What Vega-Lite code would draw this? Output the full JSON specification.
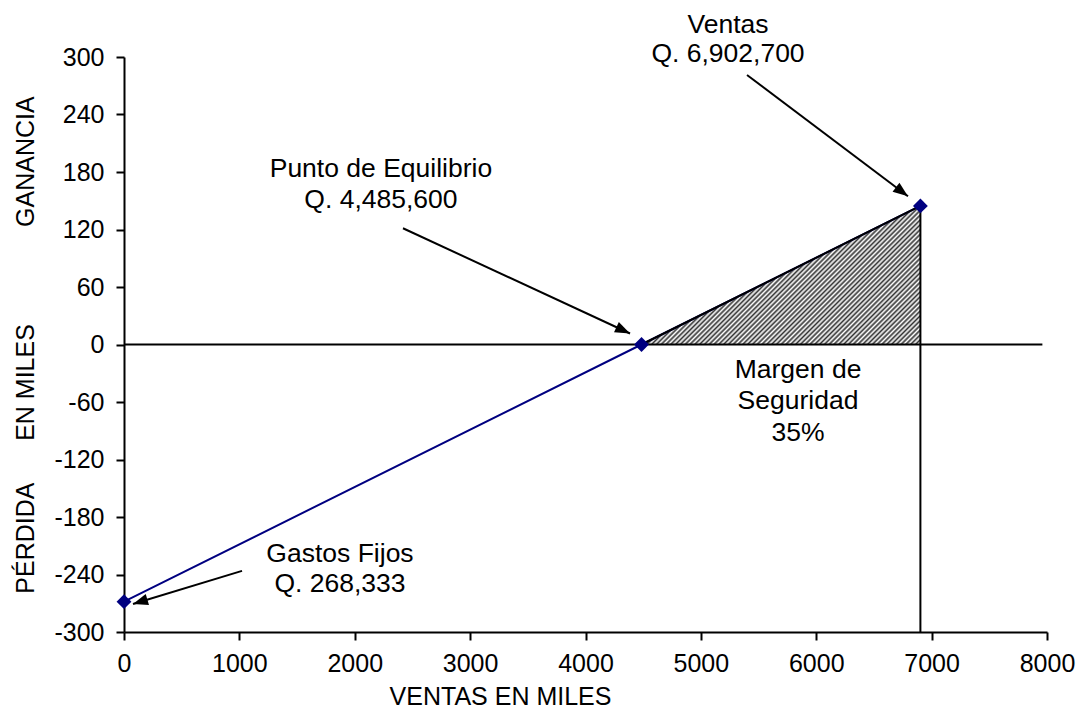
{
  "$schema": "https://vega.github.io/schema/vega-lite/v6.json",
  "width": 923,
  "height": 575,
  "autosize": {"type": "none"},
  "padding": {"left": 124, "top": 57, "right": 33, "bottom": 81},
  "background": "white",
  "config": {
    "view": {"stroke": null},
    "axis": {
      "grid": false,
      "domainColor": "black",
      "domainWidth": 2,
      "tickColor": "black",
      "tickWidth": 2,
      "tickSize": 8,
      "labelFont": "Liberation Sans",
      "labelFontSize": 25,
      "labelColor": "black",
      "labelFlush": false,
      "titleFont": "Liberation Sans",
      "titleFontSize": 25,
      "titleFontWeight": "normal",
      "titleColor": "black"
    }
  },
  "datasets": {
    "series": [
      {"ventas": 0, "ganancia": -268.333},
      {"ventas": 4485.6, "ganancia": 0},
      {"ventas": 6902.7, "ganancia": 144.6}
    ],
    "flechas": [
      {"nombre": "ventas", "x_inicio": 5400, "y_inicio": 281.2, "x_fin": 6795, "y_fin": 154.7},
      {"nombre": "equilibrio", "x_inicio": 2418, "y_inicio": 121.3, "x_fin": 4386, "y_fin": 11.5},
      {"nombre": "gastos", "x_inicio": 1023, "y_inicio": -236.2, "x_fin": 78, "y_fin": -270.7}
    ],
    "etiquetas": [
      {"texto": "Ventas", "ventas": 5235, "ganancia": 325.1},
      {"texto": "Q. 6,902,700", "ventas": 5235, "ganancia": 294.8},
      {"texto": "Punto de Equilibrio", "ventas": 2227, "ganancia": 174.6},
      {"texto": "Q. 4,485,600", "ventas": 2227, "ganancia": 142.2},
      {"texto": "Margen de", "ventas": 5842, "ganancia": -34.5},
      {"texto": "Seguridad", "ventas": 5842, "ganancia": -66.9},
      {"texto": "35%", "ventas": 5842, "ganancia": -100.3},
      {"texto": "Gastos Fijos", "ventas": 1872, "ganancia": -226.8},
      {"texto": "Q. 268,333", "ventas": 1872, "ganancia": -258.2}
    ]
  },
  "encoding": {
    "x": {
      "type": "quantitative",
      "scale": {"domain": [0, 8000], "nice": false},
      "axis": {
        "title": "VENTAS EN MILES",
        "values": [0, 1000, 2000, 3000, 4000, 5000, 6000, 7000, 8000],
        "labelExpr": "toString(datum.value)",
        "labelPadding": 11,
        "titlePadding": 8,
        "titleX": 376
      }
    },
    "y": {
      "type": "quantitative",
      "scale": {"domain": [-300, 300], "nice": false},
      "axis": {
        "title": "PÉRDIDA\u00a0\u00a0\u00a0\u00a0\u00a0\u00a0EN MILES\u00a0\u00a0\u00a0\u00a0\u00a0\u00a0\u00a0\u00a0\u00a0\u00a0\u00a0\u00a0\u00a0\u00a0GANANCIA",
        "values": [-300, -240, -180, -120, -60, 0, 60, 120, 180, 240, 300],
        "labelExpr": "toString(datum.value)",
        "labelPadding": 12,
        "titlePadding": 15
      }
    }
  },
  "layer": [
    {
      "data": {"name": "series"},
      "transform": [{"filter": "datum.ventas >= 4485.6"}],
      "mark": {
        "type": "area",
        "fill": {
          "gradient": "linear",
          "x1": 0, "y1": 0, "x2": 1.2, "y2": 0.597,
          "stops": [
            {"offset":0.0000,"color":"#333333"},{"offset":0.0057,"color":"#ffffff"},
            {"offset":0.0115,"color":"#333333"},{"offset":0.0172,"color":"#ffffff"},
            {"offset":0.0230,"color":"#333333"},{"offset":0.0287,"color":"#ffffff"},
            {"offset":0.0345,"color":"#333333"},{"offset":0.0402,"color":"#ffffff"},
            {"offset":0.0460,"color":"#333333"},{"offset":0.0517,"color":"#ffffff"},
            {"offset":0.0575,"color":"#333333"},{"offset":0.0632,"color":"#ffffff"},
            {"offset":0.0690,"color":"#333333"},{"offset":0.0747,"color":"#ffffff"},
            {"offset":0.0805,"color":"#333333"},{"offset":0.0862,"color":"#ffffff"},
            {"offset":0.0920,"color":"#333333"},{"offset":0.0977,"color":"#ffffff"},
            {"offset":0.1034,"color":"#333333"},{"offset":0.1092,"color":"#ffffff"},
            {"offset":0.1149,"color":"#333333"},{"offset":0.1207,"color":"#ffffff"},
            {"offset":0.1264,"color":"#333333"},{"offset":0.1322,"color":"#ffffff"},
            {"offset":0.1379,"color":"#333333"},{"offset":0.1437,"color":"#ffffff"},
            {"offset":0.1494,"color":"#333333"},{"offset":0.1552,"color":"#ffffff"},
            {"offset":0.1609,"color":"#333333"},{"offset":0.1667,"color":"#ffffff"},
            {"offset":0.1724,"color":"#333333"},{"offset":0.1782,"color":"#ffffff"},
            {"offset":0.1839,"color":"#333333"},{"offset":0.1897,"color":"#ffffff"},
            {"offset":0.1954,"color":"#333333"},{"offset":0.2011,"color":"#ffffff"},
            {"offset":0.2069,"color":"#333333"},{"offset":0.2126,"color":"#ffffff"},
            {"offset":0.2184,"color":"#333333"},{"offset":0.2241,"color":"#ffffff"},
            {"offset":0.2299,"color":"#333333"},{"offset":0.2356,"color":"#ffffff"},
            {"offset":0.2414,"color":"#333333"},{"offset":0.2471,"color":"#ffffff"},
            {"offset":0.2529,"color":"#333333"},{"offset":0.2586,"color":"#ffffff"},
            {"offset":0.2644,"color":"#333333"},{"offset":0.2701,"color":"#ffffff"},
            {"offset":0.2759,"color":"#333333"},{"offset":0.2816,"color":"#ffffff"},
            {"offset":0.2874,"color":"#333333"},{"offset":0.2931,"color":"#ffffff"},
            {"offset":0.2989,"color":"#333333"},{"offset":0.3046,"color":"#ffffff"},
            {"offset":0.3103,"color":"#333333"},{"offset":0.3161,"color":"#ffffff"},
            {"offset":0.3218,"color":"#333333"},{"offset":0.3276,"color":"#ffffff"},
            {"offset":0.3333,"color":"#333333"},{"offset":0.3391,"color":"#ffffff"},
            {"offset":0.3448,"color":"#333333"},{"offset":0.3506,"color":"#ffffff"},
            {"offset":0.3563,"color":"#333333"},{"offset":0.3621,"color":"#ffffff"},
            {"offset":0.3678,"color":"#333333"},{"offset":0.3736,"color":"#ffffff"},
            {"offset":0.3793,"color":"#333333"},{"offset":0.3851,"color":"#ffffff"},
            {"offset":0.3908,"color":"#333333"},{"offset":0.3966,"color":"#ffffff"},
            {"offset":0.4023,"color":"#333333"},{"offset":0.4080,"color":"#ffffff"},
            {"offset":0.4138,"color":"#333333"},{"offset":0.4195,"color":"#ffffff"},
            {"offset":0.4253,"color":"#333333"},{"offset":0.4310,"color":"#ffffff"},
            {"offset":0.4368,"color":"#333333"},{"offset":0.4425,"color":"#ffffff"},
            {"offset":0.4483,"color":"#333333"},{"offset":0.4540,"color":"#ffffff"},
            {"offset":0.4598,"color":"#333333"},{"offset":0.4655,"color":"#ffffff"},
            {"offset":0.4713,"color":"#333333"},{"offset":0.4770,"color":"#ffffff"},
            {"offset":0.4828,"color":"#333333"},{"offset":0.4885,"color":"#ffffff"},
            {"offset":0.4943,"color":"#333333"},{"offset":0.5000,"color":"#ffffff"},
            {"offset":0.5057,"color":"#333333"},{"offset":0.5115,"color":"#ffffff"},
            {"offset":0.5172,"color":"#333333"},{"offset":0.5230,"color":"#ffffff"},
            {"offset":0.5287,"color":"#333333"},{"offset":0.5345,"color":"#ffffff"},
            {"offset":0.5402,"color":"#333333"},{"offset":0.5460,"color":"#ffffff"},
            {"offset":0.5517,"color":"#333333"},{"offset":0.5575,"color":"#ffffff"},
            {"offset":0.5632,"color":"#333333"},{"offset":0.5690,"color":"#ffffff"},
            {"offset":0.5747,"color":"#333333"},{"offset":0.5805,"color":"#ffffff"},
            {"offset":0.5862,"color":"#333333"},{"offset":0.5920,"color":"#ffffff"},
            {"offset":0.5977,"color":"#333333"},{"offset":0.6034,"color":"#ffffff"},
            {"offset":0.6092,"color":"#333333"},{"offset":0.6149,"color":"#ffffff"},
            {"offset":0.6207,"color":"#333333"},{"offset":0.6264,"color":"#ffffff"},
            {"offset":0.6322,"color":"#333333"},{"offset":0.6379,"color":"#ffffff"},
            {"offset":0.6437,"color":"#333333"},{"offset":0.6494,"color":"#ffffff"},
            {"offset":0.6552,"color":"#333333"},{"offset":0.6609,"color":"#ffffff"},
            {"offset":0.6667,"color":"#333333"},{"offset":0.6724,"color":"#ffffff"},
            {"offset":0.6782,"color":"#333333"},{"offset":0.6839,"color":"#ffffff"},
            {"offset":0.6897,"color":"#333333"},{"offset":0.6954,"color":"#ffffff"},
            {"offset":0.7011,"color":"#333333"},{"offset":0.7069,"color":"#ffffff"},
            {"offset":0.7126,"color":"#333333"},{"offset":0.7184,"color":"#ffffff"},
            {"offset":0.7241,"color":"#333333"},{"offset":0.7299,"color":"#ffffff"},
            {"offset":0.7356,"color":"#333333"},{"offset":0.7414,"color":"#ffffff"},
            {"offset":0.7471,"color":"#333333"},{"offset":0.7529,"color":"#ffffff"},
            {"offset":0.7586,"color":"#333333"},{"offset":0.7644,"color":"#ffffff"},
            {"offset":0.7701,"color":"#333333"},{"offset":0.7759,"color":"#ffffff"},
            {"offset":0.7816,"color":"#333333"},{"offset":0.7874,"color":"#ffffff"},
            {"offset":0.7931,"color":"#333333"},{"offset":0.7989,"color":"#ffffff"},
            {"offset":0.8046,"color":"#333333"},{"offset":0.8103,"color":"#ffffff"},
            {"offset":0.8161,"color":"#333333"},{"offset":0.8218,"color":"#ffffff"},
            {"offset":0.8276,"color":"#333333"},{"offset":0.8333,"color":"#ffffff"},
            {"offset":0.8391,"color":"#333333"},{"offset":0.8448,"color":"#ffffff"},
            {"offset":0.8506,"color":"#333333"},{"offset":0.8563,"color":"#ffffff"},
            {"offset":0.8621,"color":"#333333"},{"offset":0.8678,"color":"#ffffff"},
            {"offset":0.8736,"color":"#333333"},{"offset":0.8793,"color":"#ffffff"},
            {"offset":0.8851,"color":"#333333"},{"offset":0.8908,"color":"#ffffff"},
            {"offset":0.8966,"color":"#333333"},{"offset":0.9023,"color":"#ffffff"},
            {"offset":0.9080,"color":"#333333"},{"offset":0.9138,"color":"#ffffff"},
            {"offset":0.9195,"color":"#333333"},{"offset":0.9253,"color":"#ffffff"},
            {"offset":0.9310,"color":"#333333"},{"offset":0.9368,"color":"#ffffff"},
            {"offset":0.9425,"color":"#333333"},{"offset":0.9483,"color":"#ffffff"},
            {"offset":0.9540,"color":"#333333"},{"offset":0.9598,"color":"#ffffff"},
            {"offset":0.9655,"color":"#333333"},{"offset":0.9713,"color":"#ffffff"},
            {"offset":0.9770,"color":"#333333"},{"offset":0.9828,"color":"#ffffff"},
            {"offset":0.9885,"color":"#333333"},{"offset":0.9943,"color":"#ffffff"},
            {"offset":1.0000,"color":"#333333"}
          ]
        }
      },
      "encoding": {
        "x": {"field": "ventas"},
        "y": {"field": "ganancia"},
        "y2": {"datum": 0}
      }
    },
    {
      "data": {"name": "series"},
      "transform": [{"filter": "datum.ventas == 4485.6"}],
      "mark": {"type": "rule", "color": "black", "strokeWidth": 2},
      "encoding": {
        "x": {"datum": 0},
        "x2": {"datum": 7960},
        "y": {"field": "ganancia"}
      }
    },
    {
      "data": {"name": "series"},
      "mark": {"type": "line", "color": "#000080", "strokeWidth": 2},
      "encoding": {
        "x": {"field": "ventas"},
        "y": {"field": "ganancia"}
      }
    },
    {
      "data": {"name": "series"},
      "transform": [{"filter": "datum.ventas >= 4485.6"}],
      "mark": {"type": "line", "color": "black", "strokeWidth": 2},
      "encoding": {
        "x": {"field": "ventas"},
        "y": {"field": "ganancia"}
      }
    },
    {
      "data": {"name": "series"},
      "transform": [{"filter": "datum.ventas == 6902.7"}],
      "mark": {"type": "rule", "color": "black", "strokeWidth": 2},
      "encoding": {
        "x": {"field": "ventas"},
        "y": {"field": "ganancia"},
        "y2": {"datum": -300}
      }
    },
    {
      "data": {"name": "flechas"},
      "mark": {"type": "rule", "color": "black", "strokeWidth": 2},
      "encoding": {
        "x": {"field": "x_inicio"},
        "y": {"field": "y_inicio"},
        "x2": {"field": "x_fin"},
        "y2": {"field": "y_fin"}
      }
    },
    {
      "data": {"name": "flechas"},
      "transform": [{"filter": "datum.nombre == 'ventas'"}],
      "mark": {"type": "point", "shape": "M0,0L0.38,1L-0.38,1Z", "angle": 127, "size": 900, "filled": true, "color": "black", "opacity": 1},
      "encoding": {
        "x": {"field": "x_fin"},
        "y": {"field": "y_fin"}
      }
    },
    {
      "data": {"name": "flechas"},
      "transform": [{"filter": "datum.nombre == 'equilibrio'"}],
      "mark": {"type": "point", "shape": "M0,0L0.38,1L-0.38,1Z", "angle": 114.9, "size": 900, "filled": true, "color": "black", "opacity": 1},
      "encoding": {
        "x": {"field": "x_fin"},
        "y": {"field": "y_fin"}
      }
    },
    {
      "data": {"name": "flechas"},
      "transform": [{"filter": "datum.nombre == 'gastos'"}],
      "mark": {"type": "point", "shape": "M0,0L0.38,1L-0.38,1Z", "angle": 253.1, "size": 900, "filled": true, "color": "black", "opacity": 1},
      "encoding": {
        "x": {"field": "x_fin"},
        "y": {"field": "y_fin"}
      }
    },
    {
      "data": {"name": "series"},
      "mark": {"type": "point", "shape": "diamond", "size": 220, "filled": true, "color": "#000080", "opacity": 1},
      "encoding": {
        "x": {"field": "ventas"},
        "y": {"field": "ganancia"}
      }
    },
    {
      "data": {"name": "etiquetas"},
      "mark": {"type": "text", "font": "Liberation Sans", "fontSize": 26.5, "color": "black", "align": "center", "baseline": "alphabetic"},
      "encoding": {
        "x": {"field": "ventas"},
        "y": {"field": "ganancia"},
        "text": {"field": "texto"}
      }
    }
  ]
}
